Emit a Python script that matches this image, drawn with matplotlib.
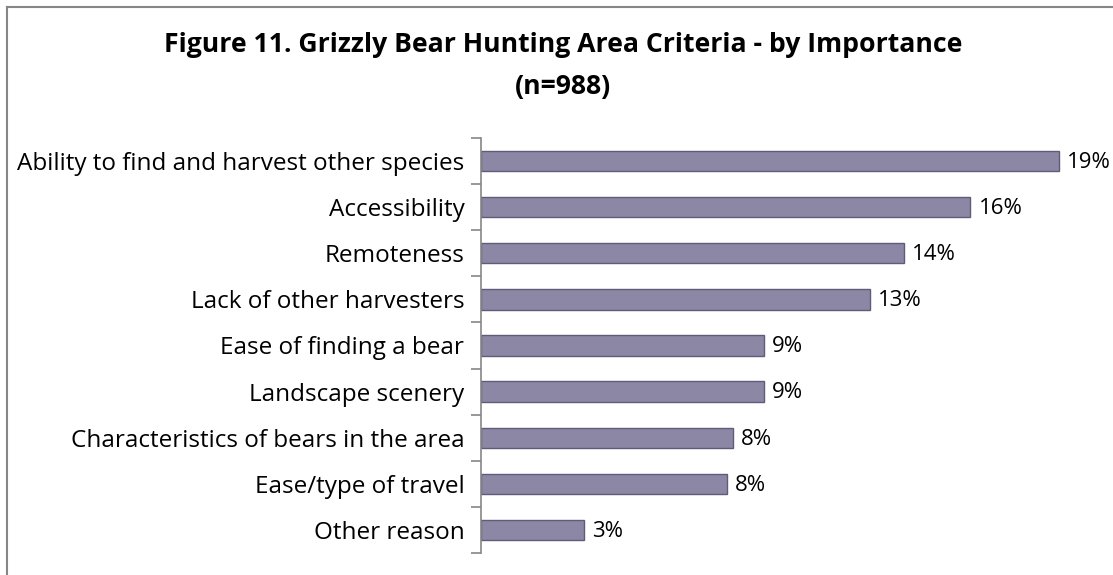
import matplotlib.pyplot as plt
from matplotlib.lines import Line2D

categories = [
    "Ability to find and harvest other species",
    "Accessibility",
    "Remoteness",
    "Lack of other harvesters",
    "Ease of finding a bear",
    "Landscape scenery",
    "Characteristics of bears in the area",
    "Ease/type of travel",
    "Other reason",
]
values = [19.0, 16.1, 13.9, 12.8, 9.3, 9.3, 8.3, 8.1, 3.4]
value_labels = ["19%", "16%", "14%", "13%", "9%", "9%", "8%", "8%", "3%"]

W, H = 1113, 575
plt.rcParams["font.family"] = ["Open Sans", "DejaVu Sans"]

fig = plt.figure(figsize=(W / 100, H / 100), dpi=100)

# axes placed in pixel terms
ax_left, ax_right = 481, 1081
ax_top, ax_bottom = 138, 553
ax = fig.add_axes([ax_left / W, 1 - ax_bottom / H,
                   (ax_right - ax_left) / W, (ax_bottom - ax_top) / H])

px_per_pct = 30.4
ax.set_xlim(0, (ax_right - ax_left) / px_per_pct)
ax.set_ylim(len(categories) - 0.5, -0.5)

ypos = list(range(len(categories)))
ax.barh(ypos, values, height=0.44, color="#8B87A5", edgecolor="#5F5B78",
        linewidth=1.0)

for y, v, lab in zip(ypos, values, value_labels):
    ax.text(v + 8 / px_per_pct, y + 0.03, lab, va="center", ha="left", fontsize=16)

ax.set_yticks(ypos)
ax.set_yticklabels(categories, fontsize=17.5)
ax.tick_params(axis="y", which="major", length=0, pad=12)
ax.set_yticks([i - 0.5 for i in range(len(categories) + 1)], minor=True)
ax.tick_params(axis="y", which="minor", length=7, color="#868686", width=1.2)

for s in ["top", "right", "bottom"]:
    ax.spines[s].set_visible(False)
ax.spines["left"].set_color("#868686")
ax.spines["left"].set_linewidth(1.2)
ax.set_xticks([])

title_x = 563 / W
fig.text(title_x, 1 - 45 / H, "Figure 11. Grizzly Bear Hunting Area Criteria - by Importance",
         ha="center", va="center", fontsize=19.2, fontweight="bold")
fig.text(title_x, 1 - 87 / H, "(n=988)", ha="center", va="center",
         fontsize=19.2, fontweight="bold")

# outer frame (top and left edges visible)
fig.add_artist(Line2D([7 / W, 7 / W], [0, 1 - 7 / H], transform=fig.transFigure,
                      color="#868686", linewidth=1.5))
fig.add_artist(Line2D([7 / W, 1], [1 - 7 / H, 1 - 7 / H], transform=fig.transFigure,
                      color="#868686", linewidth=1.5))

fig.savefig("out.png", dpi=100)
